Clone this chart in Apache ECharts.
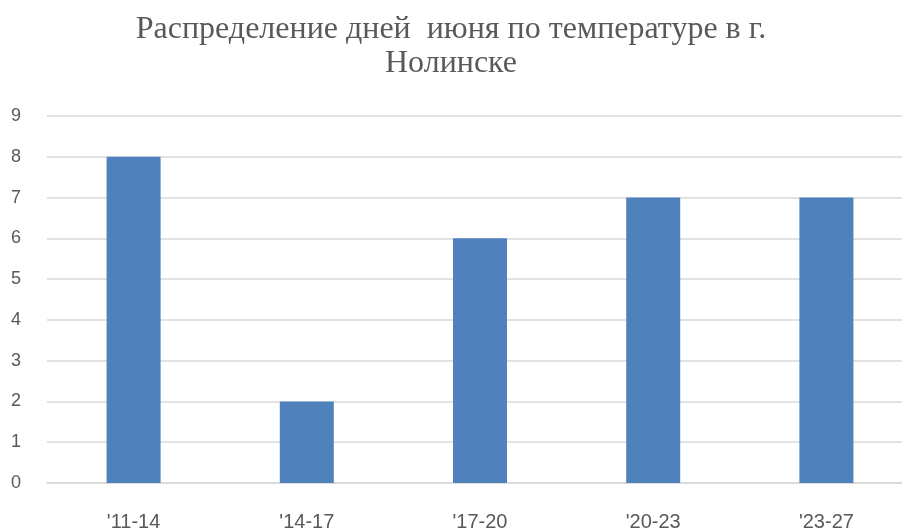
<!DOCTYPE html>
<html><head><meta charset="utf-8">
<script src="https://cdn.jsdelivr.net/npm/echarts@6/dist/echarts.min.js"></script>
<style>html,body{margin:0;padding:0;background:#fff}#c{width:902px;height:530px}</style>
</head><body><div id="c"></div>
<script>
const titleText = "Распределение дней  июня по температуре в г.\nНолинске";
const categories = ["'11-14", "'14-17", "'17-20", "'20-23", "'23-27"];
const values = [8, 2, 6, 7, 7];

const chart = echarts.init(document.getElementById('c'), null, {renderer: 'canvas'});
chart.setOption({
  animation: false,
  title: {
    text: titleText, left: 'center', top: 8,
    textStyle: {fontFamily: 'Liberation Serif', fontWeight: 'normal', fontSize: 32, color: '#595959', lineHeight: 34}
  },
  grid: {left: 47, right: -11, top: 116, bottom: 47, containLabel: false, outerBoundsMode: 'none'},
  xAxis: {
    type: 'category', data: categories,
    axisLine: {lineStyle: {color: '#d9d9d9', width: 1.5}},
    axisTick: {show: false},
    axisLabel: {fontFamily: 'Liberation Sans', fontSize: 20, color: '#595959', margin: 29}
  },
  yAxis: {
    type: 'value', min: 0, max: 9, interval: 1,
    axisLine: {show: false}, axisTick: {show: false},
    splitLine: {lineStyle: {color: '#d9d9d9', width: 1.5}},
    axisLabel: {fontFamily: 'Liberation Sans', fontSize: 18, color: '#595959', margin: 36, align: 'left'}
  },
  series: [{type: 'bar', data: values, barWidth: 54, itemStyle: {color: '#4f81bd'}}]
});
</script></body></html>
